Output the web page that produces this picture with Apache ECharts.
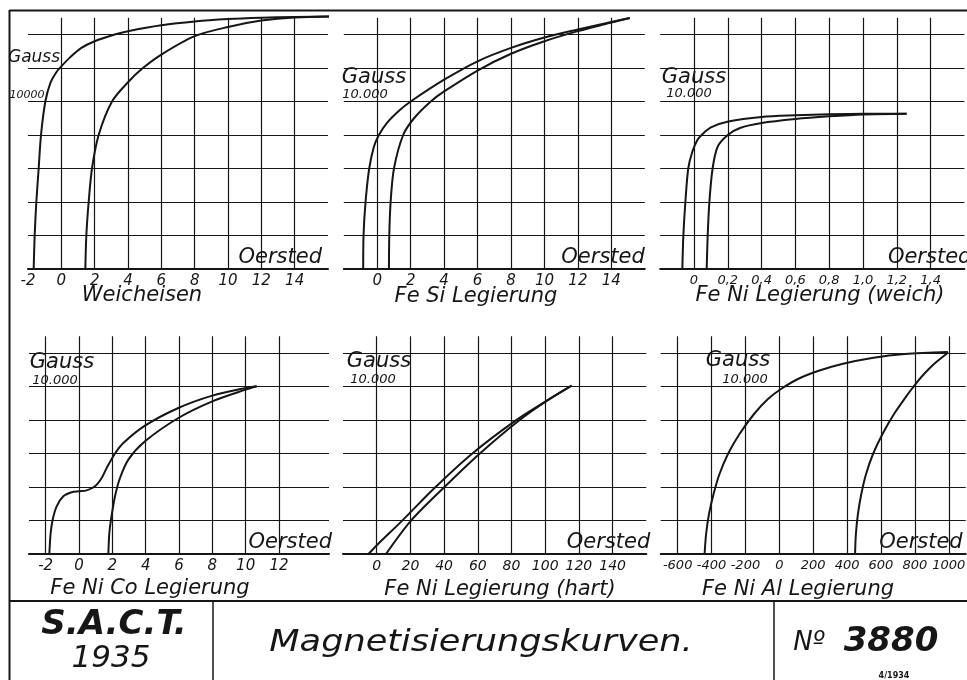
<!DOCTYPE html>
<html><head><meta charset="utf-8">
<script src="https://cdn.jsdelivr.net/npm/echarts@6/dist/echarts.min.js"></script>
<style>html,body{margin:0;padding:0;background:#fff}#c{width:967px;height:680px}</style>
</head><body><div id="c"></div>
<script>
// ---------- DATA (H in Oersted, B in Gauss) ----------
const weicheisenTicks = [-2,0,2,4,6,8,10,12,14];
const weicheisenGrid  = [0,2,4,6,8,10,12,14];
const weicheisenDown = [[-1.66,0],[-1.6,2000],[-1.5,4000],[-1.36,6000],[-1.22,8000],[-0.96,10000],[-0.66,11100],[-0.3,11750],[0,12100],[0.54,12650],[1.2,13200],[2,13600],[3.2,14000],[4,14200],[6,14550],[8,14780],[10,14920],[12,15000],[14,15050],[16.6,15080]];
const weicheisenUp   = [[1.44,0],[1.5,2000],[1.64,4000],[1.84,6000],[2.24,8000],[3.04,10000],[4,11150],[4.84,11950],[6,12800],[8,13900],[10,14450],[12,14830],[14,15020],[16.6,15080]];

const feSiTicks = [0,2,4,6,8,10,12,14];
const feSiGrid  = [0,2,4,6,8,10,12,14];
const feSiDown = [[-0.84,0],[-0.82,2000],[-0.7,4000],[-0.48,6000],[-0.2,7300],[0.1,8000],[0.56,8700],[1.3,9450],[2,10000],[4,11300],[6,12400],[8,13200],[10,13820],[12,14300],[14,14750],[15.1,14990]];
const feSiUp   = [[0.7,0],[0.72,2000],[0.8,4000],[1.0,6000],[1.55,8000],[2.2,9000],[3.2,10000],[4,10600],[6,11850],[8,12850],[10,13600],[12,14200],[14,14720],[15.1,14990]];

const feNiWeichTicks = [0,0.2,0.4,0.6,0.8,1.0,1.2,1.4];
const feNiWeichGrid  = [0,0.2,0.4,0.6,0.8,1.0,1.2,1.4];
const feNiWeichDown = [[-0.069,0],[-0.063,2000],[-0.051,4000],[-0.034,6000],[-0.01,7000],[0.02,7700],[0.045,8000],[0.1,8450],[0.203,8800],[0.4,9075],[0.6,9174],[0.8,9234],[1.0,9270],[1.258,9274]];
const feNiWeichUp   = [[0.075,0],[0.081,2000],[0.091,4000],[0.11,6000],[0.14,7300],[0.2,8000],[0.272,8418],[0.4,8716],[0.6,8955],[0.8,9114],[1.0,9230],[1.258,9274]];

const feNiCoTicks = [-2,0,2,4,6,8,10,12];
const feNiCoGrid  = [-2,0,2,4,6,8,10,12];
const feNiCoDown = [[-1.78,0],[-1.7,1254],[-1.58,2050],[-1.34,2846],[-0.94,3443],[-0.44,3682],[0,3741],[0.46,3801],[0.96,4040],[1.36,4537],[1.66,5134],[2.16,6000],[2.66,6627],[3.96,7662],[5.96,8716],[8,9453],[10,9910],[10.66,10010]];
const feNiCoUp   = [[1.76,0],[1.82,1254],[1.92,2050],[2.16,3443],[2.46,4537],[2.96,5632],[3.96,6726],[5.96,8119],[8,9114],[10,9811],[10.66,10010]];

const feNiHartTicks = [0,20,40,60,80,100,120,140];
const feNiHartGrid  = [0,20,40,60,80,100,120,140];
const feNiHartDown = [[-4.9,0],[0.4,557],[14.7,1950],[34.3,3940],[55.9,5930],[82.4,7960],[102,9214],[115.7,10050]];
const feNiHartUp   = [[5.5,0],[20,1950],[39.6,3940],[60.4,5930],[84.3,7960],[102,9214],[115.7,10050]];

const feNiAlTicks = [-600,-400,-200,0,200,400,600,800,1000];
const feNiAlGrid  = [-600,-400,-200,0,200,400,600,800,1000];
const feNiAlDown = [[-441,0],[-432,1194],[-415,2388],[-388,3582],[-353,4776],[-303,5970],[-235,7164],[-149,8358],[-67,9254],[10,9851],[110,10448],[228,10925],[370,11343],[547,11701],[741,11940],[995,12060]];
const feNiAlUp   = [[447,0],[452,1194],[464,2388],[484,3582],[512,4776],[553,5970],[609,7164],[677,8358],[759,9552],[804,10149],[854,10746],[913,11343],[997,12030]];

const panelTitles = ['Weicheisen','Fe Si Legierung','Fe Ni Legierung (weich)','Fe Ni Co Legierung','Fe Ni Legierung (hart)','Fe Ni Al Legierung'];
const xAxisName = 'Oersted';
const yAxisName = 'Gauss';
const yRefLabels = ['10000','10.000','10.000','10.000','10.000','10.000'];

// ---------- LAYOUT ----------
const INK = '#161616';
const FF = '"DejaVu Sans", sans-serif';

const panels = [
  {x:[-2,16,2],    yMax:15000, ticks:weicheisenTicks, grid:weicheisenGrid, down:weicheisenDown, up:weicheisenUp, box:{left:28,top:17.75,width:300,height:251.25}, fs:15, dec:false, ng:-6,
   gauss:[34,58,17], ref:[27,95,11], title:[142,296]},
  {x:[-2,16,2],    yMax:15000, ticks:feSiTicks, grid:feSiGrid, down:feSiDown, up:feSiUp, box:{left:343.8,top:17.75,width:301,height:251.25}, fs:15, dec:false, ng:0,
   gauss:[374,78,21], ref:[365,95,13], title:[476,297]},
  {x:[-0.2,1.6,0.2], yMax:15000, ticks:feNiWeichTicks, grid:feNiWeichGrid, down:feNiWeichDown, up:feNiWeichUp, box:{left:660.2,top:17.75,width:304.2,height:251.25}, fs:13, dec:true, ng:7,
   gauss:[694,78,21], ref:[689,94,13], title:[820,296]},
  {x:[-3,15,1],    yMax:13000, ticks:feNiCoTicks, grid:feNiCoGrid, down:feNiCoDown, up:feNiCoUp, box:{left:29,top:336.25,width:300,height:217.75}, fs:15, dec:false, ng:3,
   gauss:[62,363,21], ref:[55,381,13], title:[150,589]},
  {x:[-20,160,20], yMax:13000, ticks:feNiHartTicks, grid:feNiHartGrid, down:feNiHartDown, up:feNiHartUp, box:{left:343,top:336.25,width:303.3,height:217.75}, fs:14, dec:false, ng:4,
   gauss:[379,362,21], ref:[373,380,13], title:[500,590]},
  {x:[-700,1100,100], yMax:13000, ticks:feNiAlTicks, grid:feNiAlGrid, down:feNiAlDown, up:feNiAlUp, box:{left:660.7,top:336.25,width:305,height:217.75}, fs:13, dec:false, ng:-3,
   gauss:[738,361,21], ref:[745,380,13], title:[798,590]}
];

const grids = [], xAxes = [], yAxes = [], series = [], graphics = [];

panels.forEach((p, i) => {
  grids.push(Object.assign({containLabel:false, outerBoundsMode:'none'}, p.box));
  xAxes.push({
    gridIndex:i, type:'value', min:p.x[0], max:p.x[1], interval:p.x[2],
    axisLine:{show:true, onZero:false, lineStyle:{color:INK, width:2}},
    axisTick:{show:false}, splitLine:{show:false},
    axisLabel:{
      color:INK, fontFamily:FF, fontStyle:'italic', fontSize:p.fs, margin:5,
      showMinLabel:true, showMaxLabel:true,
      formatter: v => {
        const hit = p.ticks.some(t => Math.abs(t - v) < 1e-6);
        if (!hit) return '';
        if (p.dec) return Math.abs(v) < 1e-9 ? '0' : v.toFixed(1).replace('.', ',');
        return String(Math.round(v));
      }
    },
    name:xAxisName, nameLocation:'end', nameGap:p.ng,
    nameTextStyle:{color:INK, fontFamily:FF, fontStyle:'italic', fontSize:21, align:'right', verticalAlign:'bottom', padding:[0,0,1,0]}
  });
  yAxes.push({
    gridIndex:i, type:'value', min:0, max:p.yMax, interval:2000,
    axisLine:{show:false}, axisTick:{show:false}, axisLabel:{show:false},
    splitLine:{show:true, showMinLine:false, showMaxLine:false, lineStyle:{color:INK, width:1.2}}
  });
  const curve = (data, withGrid) => {
    const s = {
      type:'line', xAxisIndex:i, yAxisIndex:i, data:data, showSymbol:false, symbol:'none',
      smooth:0.3, clip:false, z:5, silent:true,
      lineStyle:{color:INK, width:2}
    };
    if (withGrid) {
      s.markLine = {
        silent:true, symbol:['none','none'], label:{show:false}, z:2,
        lineStyle:{color:INK, width:1.2, type:'solid'},
        data:p.grid.map(v => ({xAxis:v}))
      };
    }
    return s;
  };
  series.push(curve(p.down, true));
  series.push(curve(p.up, false));

  graphics.push({type:'text', x:p.gauss[0], y:p.gauss[1], style:{text:yAxisName, fill:INK, font:'italic '+p.gauss[2]+'px '+FF, align:'center', verticalAlign:'middle', textAlign:'center', textVerticalAlign:'middle'}});
  graphics.push({type:'text', x:p.ref[0], y:p.ref[1], style:{text:yRefLabels[i], fill:INK, font:'italic '+p.ref[2]+'px '+FF, align:'center', verticalAlign:'middle', textAlign:'center', textVerticalAlign:'middle'}});
  graphics.push({type:'text', x:p.title[0], y:p.title[1], style:{text:panelTitles[i], fill:INK, font:'italic 21px '+FF, align:'center', verticalAlign:'middle', textAlign:'center', textVerticalAlign:'middle'}});
});

// frame & title block
const ln = (x1,y1,x2,y2,w) => ({type:'line', shape:{x1,y1,x2,y2}, style:{stroke:INK, lineWidth:w}});
graphics.push(ln(9.5,10.5,967,10.5,2));
graphics.push(ln(9.5,10,9.5,680,2));
graphics.push(ln(9.5,601,967,601,2));
graphics.push(ln(213,601,213,680,1.5));
graphics.push(ln(774,601,774,680,1.5));
const txt = (x,y,t,font,extra) => Object.assign({type:'text', x, y, style:{text:t, fill:INK, font, align:'center', verticalAlign:'middle', textAlign:'center', textVerticalAlign:'middle'}}, extra||{});
graphics.push(txt(114,625,'S.A.C.T.','italic bold 34px '+FF));
graphics.push(txt(111,659,'1935','italic 31px '+FF));
graphics.push(txt(481,643,'Magnetisierungskurven.','italic 30px '+FF, {scaleX:1.17}));
graphics.push(txt(809,643,'Nº','italic 26px '+FF));
graphics.push(txt(891,642,'3880','italic bold 34px '+FF));
graphics.push(txt(894,676,'4/1934','bold 8px '+FF));

const chart = echarts.init(document.getElementById('c'), null, {renderer:'canvas'});
chart.setOption({
  animation:false, backgroundColor:'#ffffff',
  grid:grids, xAxis:xAxes, yAxis:yAxes, series:series, graphic:graphics
});
</script></body></html>
